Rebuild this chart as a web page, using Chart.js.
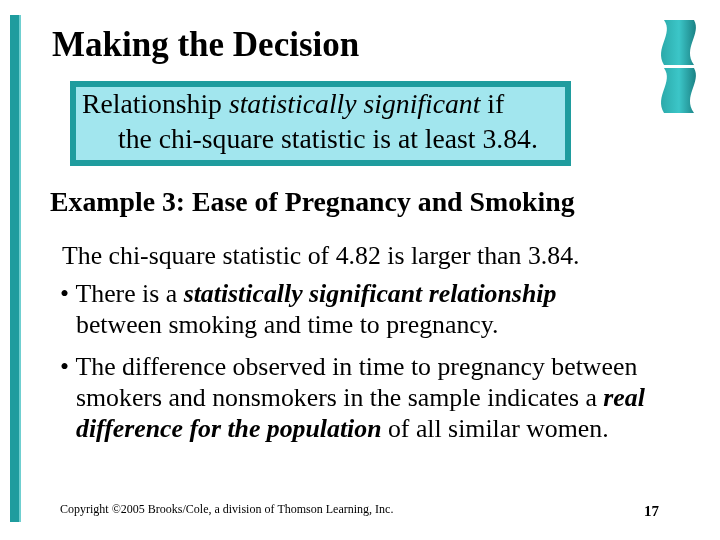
<!DOCTYPE html>
<html><head><meta charset="utf-8">
<script src="https://cdn.jsdelivr.net/npm/chart.js@4/dist/chart.umd.min.js"></script>
<style>html,body{margin:0;background:#fff}#c{display:block}</style>
</head><body>
<canvas id="c" width="720" height="540"></canvas>
<script>
// slide text, one entry per line: [text parts, x, baseline y, size]
// parts: [string, style] where style is "" / "i" / "b" / "bi"
var titleLines = [[[["Making the Decision","b"]], 52, 56, 35]];
var boxLines = [
	[[["Relationship ",""],["statistically significant","i"],[" if",""]], 82, 113, 27.7]
	,[[["the chi-square statistic is at least 3.84.",""]], 118, 148, 27.7]
];
var bodyLines = [
	[[["Example 3: Ease of Pregnancy and Smoking","b"]], 50, 211, 27.8],
	[[["The chi-square statistic of 4.82 is larger than 3.84.",""]], 62, 264, 25.8],
	[[["\u2022 There is a ",""],["statistically significant relationship","bi"]], 60, 302, 25.8],
	[[["between smoking and time to pregnancy.",""]], 76, 333, 25.8],
	[[["\u2022 The difference observed in time to pregnancy between",""]], 60, 375, 25.8],
	[[["smokers and nonsmokers in the sample indicates a ",""],["real","bi"]], 76, 406, 25.8],
	[[["difference for the population","bi"],[" of all similar women.",""]], 76, 437, 25.8]
];
var footLines = [
	[[["Copyright \u00a92005 Brooks/Cole, a division of Thomson Learning, Inc.",""]], 60, 513, 12],
	[[["17","b"]], 644, 516, 15]
];

function drawLines(ctx, lines, color) {
	lines.forEach(function(l) {
		var x = l[1];
		l[0].forEach(function(p) {
			var st = (p[1].indexOf("i") >= 0 ? "italic " : "") + (p[1].indexOf("b") >= 0 ? "bold " : "");
			ctx.font = st + l[3] + "px 'Liberation Serif', serif";
			ctx.fillStyle = color;
			ctx.fillText(p[0], x, l[2]);
			x += ctx.measureText(p[0]).width;
		});
	});
}

function ribbon(ctx, y0) {
	var g = ctx.createLinearGradient(660, 0, 698, 0);
	g.addColorStop(0, "#2aa8a8"); g.addColorStop(0.5, "#3cc6c8"); g.addColorStop(1, "#17797c");
	ctx.fillStyle = g;
	ctx.beginPath();
	ctx.moveTo(664, y0);
	ctx.lineTo(694, y0);
	ctx.bezierCurveTo(702, y0+14, 682, y0+28, 694, y0+45);
	ctx.lineTo(664, y0+45);
	ctx.bezierCurveTo(654, y0+28, 674, y0+14, 664, y0);
	ctx.fill();
}

var slidePlugin = {
	id: "slide",
	afterDraw: function(chart) {
		var ctx = chart.ctx;
		ctx.save();
		// left bar
		ctx.fillStyle = "#1f9c9e";
		ctx.fillRect(10, 15, 9, 507);
		ctx.fillStyle = "#6fcfd0";
		ctx.fillRect(19, 15, 2, 507);
		ribbon(ctx, 20);
		ribbon(ctx, 68);
		// box
		ctx.fillStyle = "#1f9c9e";
		ctx.fillRect(70, 81, 501, 85);
		ctx.fillStyle = "#a2e6ee";
		ctx.fillRect(76, 87, 489, 73);
		ctx.textBaseline = "alphabetic";
		drawLines(ctx, titleLines, "#000");
		drawLines(ctx, boxLines, "#000");
		drawLines(ctx, bodyLines, "#000");
		drawLines(ctx, footLines, "#000");
		ctx.restore();
	}
};

var chart = new Chart(document.getElementById("c"), {
	type: "bar",
	data: {labels: [], datasets: []},
	options: {
		responsive: false,
		animation: false,
		plugins: {legend: {display: false}, tooltip: {enabled: false}},
		scales: {x: {display: false}, y: {display: false}}
	},
	plugins: [slidePlugin]
});
</script>
</body></html>
